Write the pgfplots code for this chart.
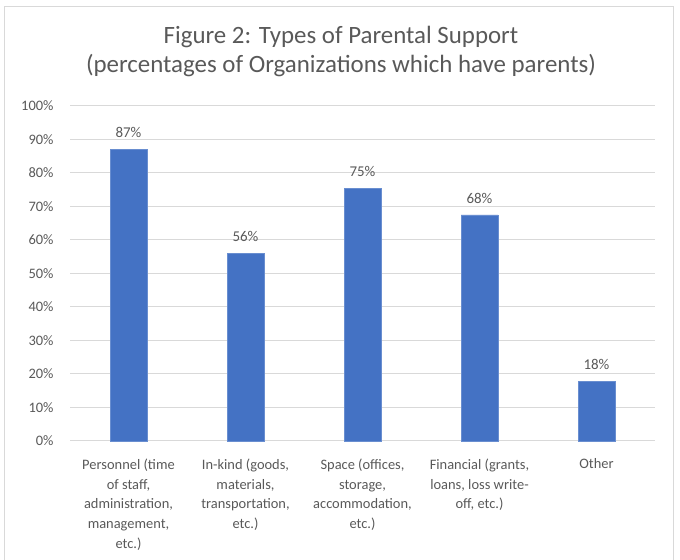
\documentclass[border=0pt]{standalone}
\usepackage{pgfplots}
\pgfplotsset{compat=1.18}
\usepackage{fontspec}
\setmainfont{Carlito}
\definecolor{barblue}{HTML}{4472C4}
\definecolor{txt}{HTML}{595959}
\definecolor{gridc}{HTML}{D9D9D9}
\begin{document}
\begin{tikzpicture}[x=1bp,y=1bp]
\path[use as bounding box] (-70,-119) rectangle (610,441);
\draw[gridc, line width=1bp] (-65,-119.5) rectangle (603,434);
\begin{axis}[
  at={(0,0)}, anchor=south west,
  scale only axis, width=585bp, height=335bp,
  xmin=-0.5, xmax=4.5, ymin=0, ymax=100,
  ybar, bar width=37bp,
  xtick={0,1,2,3,4},
  xticklabels={
    {Personnel (time\\of staff,\\administration,\\management,\\etc.)},
    {In-kind (goods,\\materials,\\transportation,\\etc.)},
    {Space (offices,\\storage,\\accommodation,\\etc.)},
    {Financial (grants,\\loans, loss write-\\off, etc.)},
    {Other}},
  xticklabel style={align=center, font=\fontsize{14.5}{20}\selectfont, text=txt, anchor=north, yshift=-14bp},
  ytick={0,10,...,100},
  yticklabel={\pgfmathprintnumber{\tick}\%},
  yticklabel style={font=\fontsize{14.5}{16}\selectfont, text=txt, xshift=-13bp},
  major tick length=0pt,
  ymajorgrids, grid style={gridc, line width=1bp},
  axis x line*=bottom,
  y axis line style={draw=none},
  x axis line style={gridc, line width=1bp, -},
  point meta=explicit symbolic,
  nodes near coords,
  nodes near coords style={font=\fontsize{15}{16}\selectfont, text=txt, anchor=south, yshift=8bp},
  /pgf/number format/assume math mode=true,
  clip=false,
]
\addplot[fill=barblue, draw=barblue!80!white] coordinates {
  (0,87.1) [87\%]
  (1,56.0) [56\%]
  (2,75.4) [75\%]
  (3,67.5) [68\%]
  (4,17.9) [18\%]
};
\end{axis}
\node[anchor=base, font=\fontsize{25}{30}\selectfont, text=txt] at (271,397) {Figure 2: Types of Parental Support};
\node[anchor=base, font=\fontsize{25}{30}\selectfont, text=txt] at (271,368) {(percentages of Organizations which have parents)};
\end{tikzpicture}
\end{document}
